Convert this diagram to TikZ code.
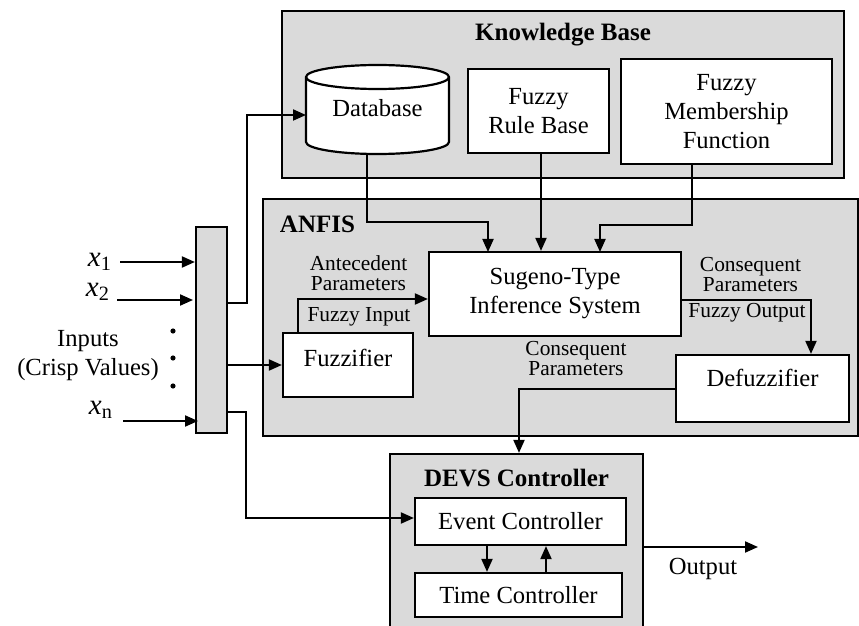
\documentclass[tikz,border=0pt]{standalone}
\usepackage{fontspec}
\setmainfont{Liberation Serif}
\usetikzlibrary{arrows.meta}
\definecolor{panelgray}{RGB}{218,218,218}
\begin{document}
\begin{tikzpicture}[x=0.5pt,y=-0.5pt,
  txt/.style={font=\fontsize{12.3}{14.5}\selectfont, align=center, inner sep=0pt},
  xl/.style={font=\fontsize{14.5}{16}\selectfont, inner sep=0pt},
  lbl/.style={font=\fontsize{10.7}{10}\selectfont, align=center, inner sep=0pt},
  hdr/.style={font=\bfseries\fontsize{12.5}{14}\selectfont, inner sep=0pt},
  box/.style={draw, fill=white, line width=1.1pt, inner sep=0pt, txt},
  panel/.style={draw, fill=panelgray, line width=1.1pt, inner sep=0pt},
  ln/.style={line width=1pt},
  arr/.style={line width=1pt, -{Triangle[length=6.5pt,width=5.5pt]}}
]
\useasboundingbox (0,0) rectangle (859,626);

% panels
\node[panel, minimum width=281pt, minimum height=83.5pt] (kb) at (563,94.5) {};
\node[hdr] (kbt) at (563,35) {Knowledge Base};
\node[panel, minimum width=297.5pt, minimum height=118.5pt] (anfis) at (560.5,317.5) {};
\node[hdr] (anfist) at (317.5,224) {ANFIS};
\node[panel, minimum width=126.5pt, minimum height=93pt] (devs) at (516.5,547) {};
\node[hdr] (devst) at (516.5,478) {DEVS Controller};
\node[panel, minimum width=15.5pt, minimum height=103pt] (bus) at (211.5,330) {};

% database cylinder
\path[fill=white, draw, line width=1.1pt] (306,77) -- (306,142)
  arc[start angle=180, end angle=360, x radius=35.75pt, y radius=6pt]
  -- (449,77)
  arc[start angle=0, end angle=180, x radius=35.75pt, y radius=6pt] -- cycle;
\draw[line width=1.1pt] (306,77) arc[start angle=180, end angle=360, x radius=35.75pt, y radius=6pt];
\node[txt, minimum width=71.5pt, minimum height=38pt] (db) at (377.5,108) {Database};
\coordinate (dbbot) at (367,153);

% boxes
\node[box, minimum width=70.5pt, minimum height=42pt] (frb) at (538.5,111) {Fuzzy\\Rule Base};
\node[box, minimum width=105.5pt, minimum height=52.5pt] (fmf) at (726.5,111.5) {Fuzzy\\Membership\\Function};
\node[box, minimum width=126pt, minimum height=42pt] (sug) at (555,294) {Sugeno-Type\\Inference System};
\node[box, minimum width=65pt, minimum height=32pt, label={[txt, yshift=3.5pt]center:Fuzzifier}] (fuz) at (348,365) {};
\node[box, minimum width=86.5pt, minimum height=33.5pt, label={[txt, yshift=5.25pt]center:Defuzzifier}] (defuz) at (762.5,388.5) {};
\node[box, minimum width=105.5pt, minimum height=23.5pt] (ev) at (520.5,521.5) {Event Controller};
\node[box, minimum width=103.5pt, minimum height=22pt] (tc) at (518.5,595) {Time Controller};

% inputs
\node[xl] (x1) at (100,262) {\textit{x}\textsubscript{1}};
\node[xl] (x2) at (98,292) {\textit{x}\textsubscript{2}};
\node[xl] (xn) at (101,410) {\textit{x}\textsubscript{n}};
\node[txt] (inp) at (88,356) {Inputs\\(Crisp Values)};
\fill (173,331) circle[radius=1.3pt] (173,358) circle[radius=1.3pt] (173,386) circle[radius=1.3pt];
\coordinate (i1) at (120,262);
\coordinate (i2) at (117,300);
\coordinate (i3) at (123,421);
\draw[arr] (i1) -- (i1 -| bus.west);
\draw[arr] (i2) -- (193,300);
\draw[arr] (i3) -- (198,421);

% connectors from bus
\draw[arr] (bus.east |- 0,303) -- (247,303) -- (247,115) -- (306,115);
\draw[arr] (bus.east |- fuz.west) -- (fuz.west);
\draw[arr] (bus.east |- 0,412) -- (246,412) -- (246,518) -- (ev.west |- 0,518);

% knowledge base to Sugeno
\draw[arr] (dbbot) -- (367,222) -- (488,222) -- (488,252);
\draw[arr] (frb.south -| 541,0) -- (sug.north -| 541,0);
\draw[arr] (fmf.south -| 692,0) -- (692,225) -- (600,225) -- (600,252);

% fuzzifier to Sugeno
\draw[arr] (fuz.north -| 298,0) -- (298,299) -- (sug.west |- 0,299);
\node[lbl] (antp) at (358.5,273) {Antecedent\\Parameters};
\node[lbl] (fin) at (359,317) {Fuzzy Input};

% Sugeno to defuzzifier
\draw[arr] (sug.east |- 0,300) -- (811,300) -- (defuz.north -| 811,0);
\node[lbl] (conp1) at (750.5,275) {Consequent\\Parameters};
\node[lbl] (fout) at (747,313) {Fuzzy Output};
\node[lbl] (conp2) at (576,359) {Consequent\\Parameters};

% defuzzifier to DEVS
\draw[arr] (defuz.west |- 0,389) -- (519,389) -- (devs.north -| 519,0);

% inside DEVS
\draw[arr] (ev.south -| 487,0) -- (tc.north -| 487,0);
\draw[arr] (tc.north -| 546,0) -- (ev.south -| 546,0);

% output
\coordinate (outend) at (758,547);
\draw[arr] (devs.east |- outend) -- (outend);
\node[txt] (outt) at (703,569) {Output};
\end{tikzpicture}
\end{document}
